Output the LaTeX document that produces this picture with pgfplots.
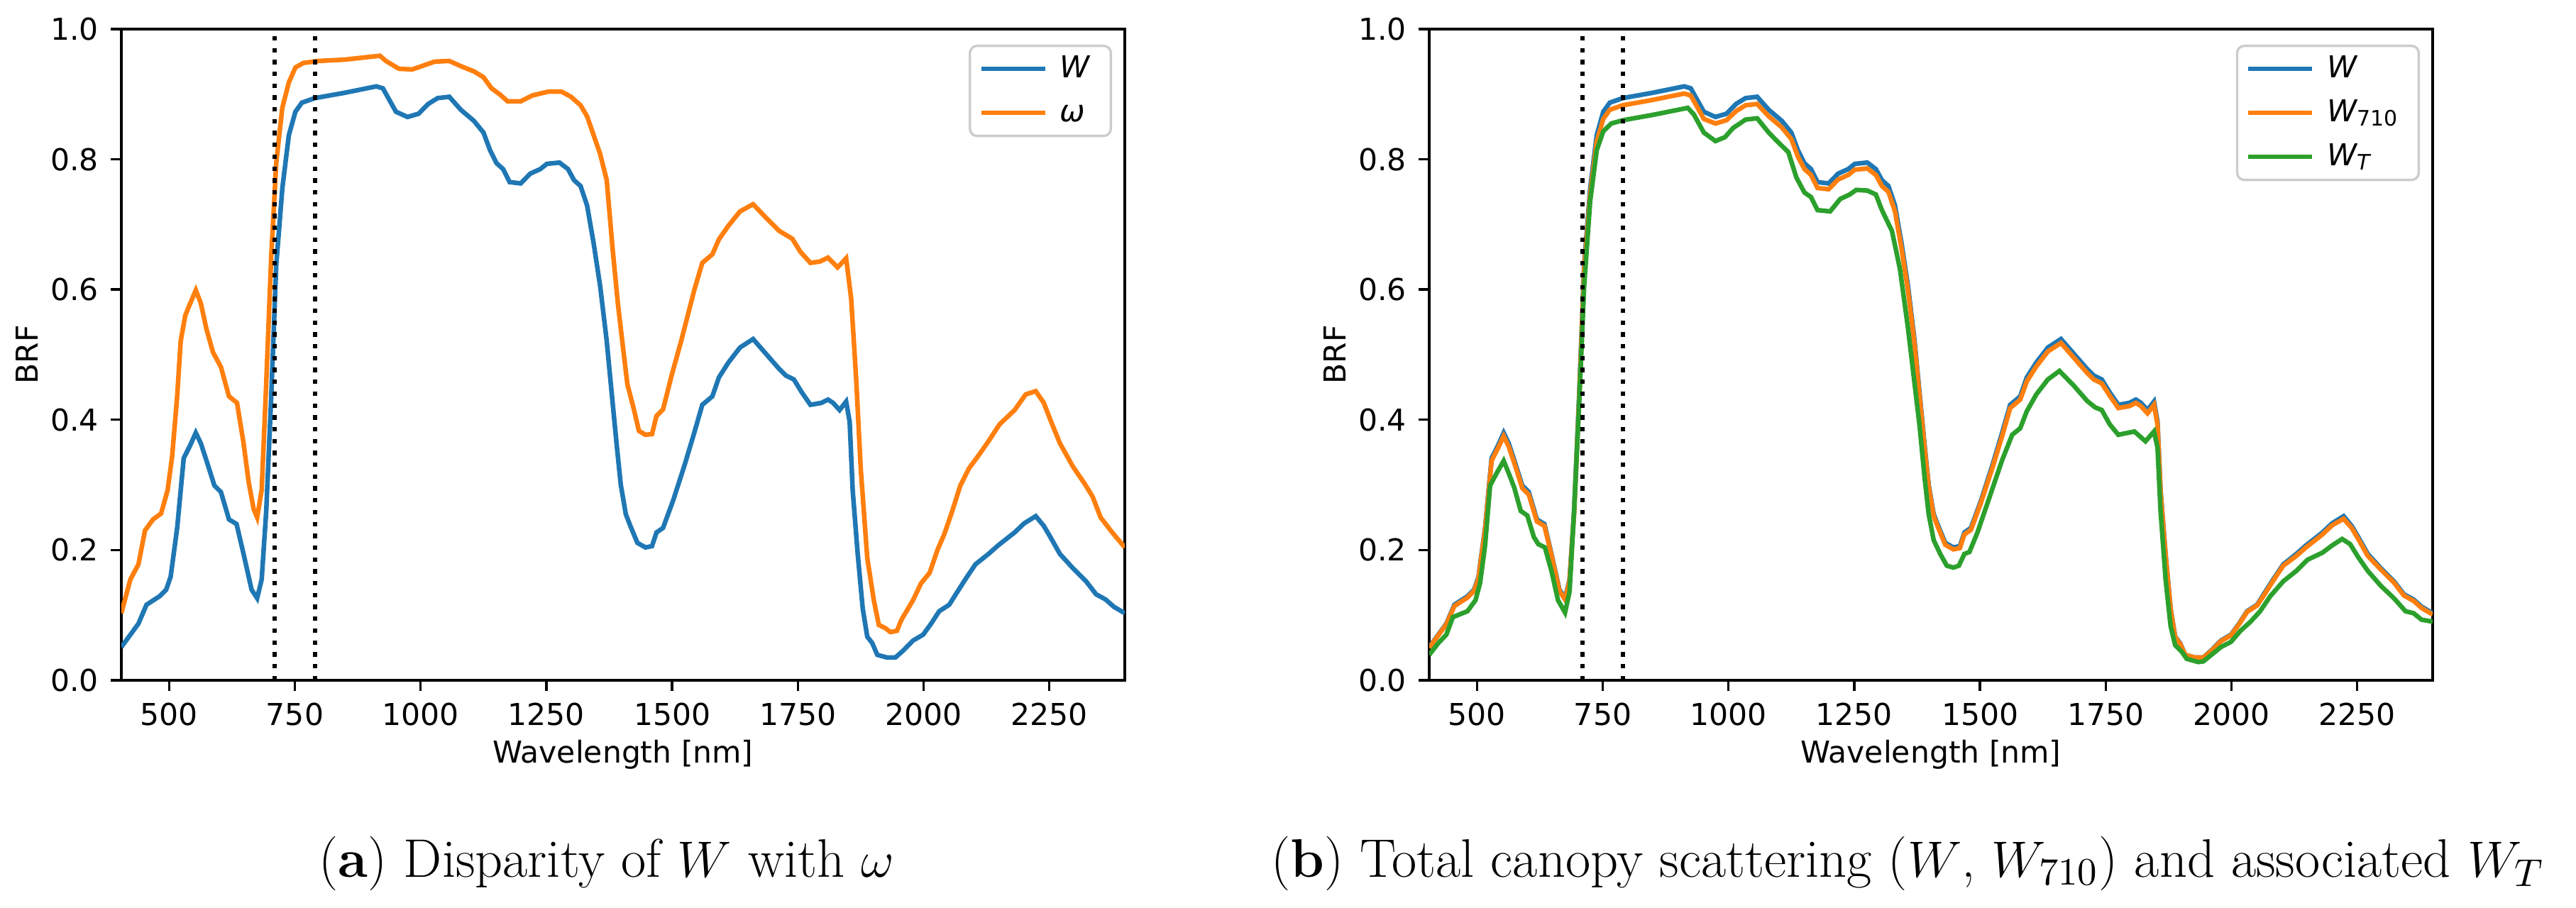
\documentclass[border=0pt]{standalone}
\usepackage{fontspec}
\usepackage{pgfplots}
\pgfplotsset{compat=1.18}
\usepackage{pgfplotstable}
\newfontfamily\dejavu{DejaVu Sans}
\definecolor{tabblue}{HTML}{1F77B4}
\definecolor{taborange}{HTML}{FF7F0E}
\definecolor{tabgreen}{HTML}{2CA02C}
\definecolor{legframe}{HTML}{CCCCCC}

\pgfplotstableread{
x W W710
405 0.051 0.050
423 0.070 0.069
439 0.087 0.086
455 0.116 0.114
481 0.129 0.127
494 0.139 0.137
503 0.159 0.157
516 0.234 0.231
529 0.341 0.337
542 0.361 0.357
553 0.380 0.375
563 0.364 0.359
574 0.338 0.334
590 0.299 0.295
603 0.289 0.285
619 0.247 0.244
634 0.240 0.237
648 0.194 0.192
664 0.139 0.137
675 0.126 0.124
684 0.155 0.153
693 0.259 0.256
703 0.436 0.431
713 0.638 0.630
725 0.755 0.746
738 0.837 0.827
751 0.873 0.862
764 0.887 0.876
790 0.894 0.883
848 0.902 0.891
912 0.912 0.901
925 0.909 0.898
951 0.873 0.862
974 0.865 0.855
996 0.870 0.860
1015 0.885 0.874
1034 0.894 0.883
1057 0.896 0.885
1080 0.876 0.866
1106 0.859 0.849
1125 0.841 0.831
1138 0.814 0.804
1151 0.794 0.785
1164 0.785 0.776
1177 0.765 0.756
1199 0.763 0.754
1218 0.778 0.769
1238 0.785 0.776
1251 0.793 0.784
1276 0.795 0.786
1293 0.785 0.776
1305 0.768 0.759
1318 0.759 0.750
1331 0.729 0.720
1344 0.671 0.663
1357 0.605 0.598
1370 0.521 0.515
1380 0.440 0.435
1390 0.360 0.356
1398 0.300 0.297
1408 0.255 0.252
1417 0.237 0.234
1431 0.211 0.208
1447 0.204 0.201
1460 0.206 0.203
1469 0.227 0.224
1482 0.234 0.231
1502 0.276 0.273
1525 0.331 0.327
1544 0.380 0.375
1560 0.423 0.418
1580 0.436 0.431
1593 0.465 0.459
1612 0.488 0.482
1635 0.511 0.505
1661 0.524 0.518
1687 0.501 0.495
1713 0.478 0.472
1726 0.468 0.462
1742 0.462 0.456
1758 0.442 0.437
1775 0.423 0.418
1797 0.426 0.421
1810 0.431 0.426
1820 0.426 0.421
1833 0.415 0.410
1846 0.428 0.423
1853 0.397 0.392
1859 0.292 0.289
1869 0.194 0.192
1879 0.110 0.109
1888 0.067 0.066
1898 0.057 0.056
1908 0.039 0.039
1927 0.035 0.035
1944 0.035 0.035
1960 0.046 0.045
1979 0.061 0.060
1999 0.070 0.069
2015 0.087 0.086
2031 0.106 0.105
2051 0.116 0.115
2064 0.132 0.130
2083 0.155 0.153
2103 0.178 0.176
2129 0.194 0.191
2148 0.207 0.204
2181 0.227 0.224
2200 0.241 0.238
2223 0.252 0.248
2239 0.237 0.234
2252 0.220 0.217
2271 0.194 0.191
2297 0.172 0.170
2323 0.152 0.150
2343 0.132 0.130
2362 0.124 0.122
2378 0.113 0.111
2400 0.103 0.101
}\tabW

\pgfplotstableread{
x omega
405 0.103
423 0.155
439 0.178
452 0.230
468 0.247
484 0.256
497 0.292
506 0.344
516 0.436
523 0.521
532 0.560
542 0.579
553 0.599
563 0.579
574 0.540
587 0.504
603 0.481
619 0.436
635 0.426
648 0.364
658 0.305
668 0.263
675 0.250
684 0.292
693 0.455
703 0.651
713 0.795
725 0.879
738 0.918
751 0.941
767 0.948
797 0.951
848 0.953
919 0.959
931 0.951
957 0.939
983 0.938
1002 0.943
1028 0.950
1057 0.951
1080 0.943
1106 0.935
1125 0.926
1141 0.909
1157 0.900
1173 0.889
1199 0.889
1222 0.898
1254 0.904
1280 0.904
1299 0.896
1318 0.883
1331 0.866
1344 0.837
1357 0.808
1370 0.768
1382 0.660
1392 0.580
1401 0.520
1411 0.455
1424 0.416
1434 0.383
1447 0.377
1460 0.378
1469 0.406
1482 0.416
1499 0.468
1518 0.521
1544 0.599
1560 0.641
1580 0.654
1593 0.677
1612 0.698
1635 0.720
1661 0.731
1687 0.710
1713 0.690
1739 0.678
1755 0.658
1775 0.641
1794 0.643
1810 0.649
1829 0.634
1846 0.648
1856 0.586
1866 0.462
1875 0.325
1888 0.188
1901 0.123
1911 0.085
1924 0.080
1934 0.074
1947 0.076
1956 0.093
1979 0.123
1995 0.149
2012 0.165
2028 0.201
2041 0.224
2057 0.260
2073 0.299
2090 0.325
2109 0.345
2129 0.367
2151 0.393
2181 0.415
2203 0.439
2223 0.444
2239 0.426
2252 0.400
2271 0.364
2297 0.328
2320 0.302
2336 0.282
2352 0.250
2375 0.227
2400 0.204
}\tabOmega

\pgfplotstableread{
x WT
405 0.039
423 0.057
439 0.070
452 0.097
481 0.106
497 0.123
506 0.149
516 0.207
526 0.299
539 0.318
553 0.337
563 0.318
574 0.296
587 0.260
600 0.253
613 0.220
622 0.209
635 0.204
648 0.168
661 0.123
675 0.104
684 0.136
693 0.260
703 0.423
713 0.605
725 0.736
738 0.814
751 0.843
767 0.855
790 0.860
848 0.868
919 0.879
931 0.869
951 0.841
974 0.828
993 0.834
1009 0.848
1034 0.861
1057 0.863
1080 0.841
1099 0.826
1119 0.811
1135 0.772
1151 0.749
1164 0.742
1177 0.722
1202 0.720
1222 0.739
1241 0.746
1254 0.753
1276 0.752
1293 0.746
1305 0.722
1325 0.690
1341 0.631
1357 0.540
1370 0.455
1380 0.390
1390 0.310
1398 0.255
1408 0.215
1421 0.194
1434 0.176
1447 0.173
1458 0.176
1469 0.194
1479 0.197
1495 0.227
1518 0.279
1544 0.338
1564 0.377
1580 0.387
1593 0.413
1612 0.439
1635 0.462
1658 0.475
1687 0.452
1713 0.429
1729 0.419
1742 0.415
1758 0.393
1775 0.377
1807 0.382
1829 0.367
1846 0.382
1853 0.357
1859 0.260
1869 0.155
1879 0.083
1888 0.054
1901 0.044
1911 0.033
1934 0.028
1944 0.029
1960 0.039
1979 0.051
1999 0.059
2018 0.076
2038 0.090
2057 0.106
2077 0.129
2103 0.152
2129 0.168
2151 0.185
2181 0.196
2200 0.207
2220 0.217
2236 0.209
2252 0.189
2271 0.168
2297 0.145
2323 0.126
2346 0.106
2362 0.103
2378 0.093
2400 0.090
}\tabWT

\pgfplotstableread{
x y
710 0
710 1
}\vlineA
\pgfplotstableread{
x y
790 0
790 1
}\vlineB

\newcommand{\chartfont}{\dejavu\fontsize{8.5}{10}\selectfont}
\pgfplotsset{
  brf/.style={
    scale only axis, width=282.8pt, height=183.6pt,
    xmin=405, xmax=2400, ymin=0, ymax=1,
    xtick={500,750,1000,1250,1500,1750,2000,2250},
    ytick={0,0.2,0.4,0.6,0.8,1},
    tick align=outside, tick pos=left, major tick length=2.94pt,
    major tick style={black, line width=0.67pt},
    axis line style={black, line width=0.67pt},
    /pgf/number format/assume math mode=true,
    ticklabel style={font=\chartfont},
    xticklabel style={/pgf/number format/set thousands separator={}},
    yticklabel style={/pgf/number format/.cd, fixed, fixed zerofill, precision=1},
    xlabel={Wavelength [nm]}, ylabel={BRF},
    label style={font=\chartfont},
    xlabel style={at={(axis description cs:0.5,-0.1144)}, anchor=center},
    ylabel style={at={(axis description cs:-0.094,0.5)}, anchor=center},
    legend cell align=left,
    legend image code/.code={\draw[##1, line width=1.3pt] (0pt,0pt) -- (18pt,0pt);},
    legend style={at={(1,1)}, anchor=north east, xshift=-3.6pt, yshift=-4.4pt,
      draw=legframe, line width=0.67pt, rounded corners=2pt,
      fill=white, fill opacity=0.8, text opacity=1, draw opacity=1,
      font=\chartfont, inner xsep=2.5pt, inner ysep=2.5pt,
      row sep=4.4pt,
      nodes={inner xsep=3.5pt, inner ysep=0pt, text height=6.5pt, text depth=1.5pt}},
    every axis plot/.append style={line width=1.3pt},
  },
  vl/.style={black, line width=1.26pt, dash pattern=on 1.26pt off 2.08pt, forget plot},
}

\begin{document}
\begin{tikzpicture}
\path[use as bounding box] (-34.2pt,-64.2pt) rectangle (691.8pt,191.8pt);
\begin{axis}[brf, at={(0pt,0pt)}, anchor=south west]
\addplot[tabblue] table[x=x, y=W] {\tabW};
\addlegendentry{\itshape W}
\addplot[taborange] table[x=x, y=omega] {\tabOmega};
\addlegendentry{\itshape ω}
\addplot[vl] table {\vlineA};
\addplot[vl] table {\vlineB};
\end{axis}
\begin{axis}[brf, at={(368.6pt,0pt)}, anchor=south west]
\addplot[tabblue] table[x=x, y=W] {\tabW};
\addlegendentry{\itshape W}
\addplot[taborange] table[x=x, y=W710] {\tabW};
\addlegendentry{\itshape W\raisebox{-0.25ex}{\upshape\fontsize{6}{6}\selectfont 710}}
\addplot[tabgreen] table[x=x, y=WT] {\tabWT};
\addlegendentry{\itshape W\raisebox{-0.25ex}{\fontsize{6}{6}\selectfont T}}
\addplot[vl] table {\vlineA};
\addplot[vl] table {\vlineB};
\end{axis}
\node[anchor=base, font=\fontsize{15.3}{18}\selectfont] at (136.8pt,-55.6pt) {(\textbf{a}) Disparity of $W$ with $\omega$};
\node[anchor=base, font=\fontsize{15.3}{18}\selectfont] at (503.5pt,-55.6pt) {(\textbf{b}) Total canopy scattering ($W$, $W_{710}$) and associated $W_T$};
\end{tikzpicture}
\end{document}
